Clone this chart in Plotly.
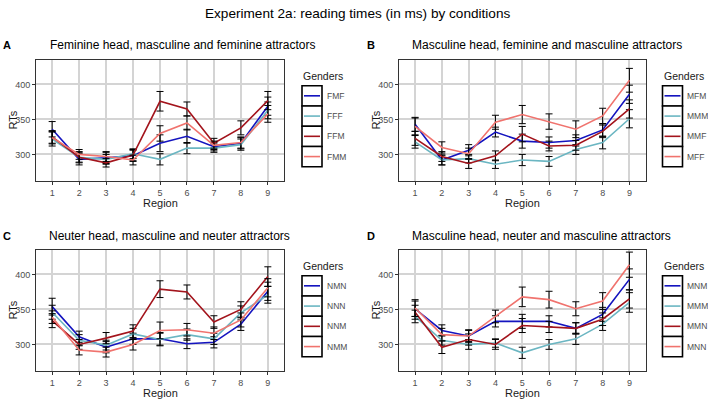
import plotly.graph_objects as go

W, H = 708, 402

regions = [1, 2, 3, 4, 5, 6, 7, 8, 9]
tick_labels = ["1", "2", "3", "4", "5", "6", "7", "8", "9"]
y_ticks = [300, 350, 400]

main_title = "Experiment 2a: reading times (in ms) by conditions"
panel_letters = ["A", "B", "C", "D"]
panel_titles = [
    "Feminine head, masculine and feminine attractors",
    "Masculine head, feminine and masculine attractors",
    "Neuter head, masculine and neuter attractors",
    "Masculine head, neuter and masculine attractors",
]
legend_title = "Genders"
x_title = "Region"
y_title = "RTs"

colors = ["#1414bf", "#6bb6c2", "#a3141c", "#f0736e"]

# Panel A
A_names = ["FMF", "FFF", "FFM", "FMM"]
A_FMF = [336, 293, 295, 298, 316, 326, 311, 316, 369]
A_FFF = [322, 296, 293, 301, 293, 309, 309, 314, 363]
A_FFM = [325, 296, 288, 299, 376, 365, 316, 338, 377]
A_FMM = [324, 300, 297, 292, 330, 345, 313, 317, 358]
A_FMF_err = [11, 8, 8, 8, 12, 10, 6, 8, 13]
A_FFF_err = [10, 7, 7, 7, 8, 8, 6, 8, 12]
A_FFM_err = [9, 8, 6, 8, 14, 10, 7, 10, 13]
A_FMM_err = [9, 7, 7, 7, 11, 10, 6, 8, 12]

# Panel B
B_names = ["MFM", "MMM", "MMF", "MFF"]
B_MFM = [343, 292, 306, 332, 319, 317, 320, 335, 386]
B_MMM = [318, 292, 294, 286, 292, 290, 307, 317, 351]
B_MMF = [323, 297, 287, 298, 329, 312, 313, 333, 365]
B_MFF = [340, 310, 301, 346, 357, 347, 336, 355, 406]
B_MFM_err = [10, 7, 8, 7, 10, 8, 8, 9, 13]
B_MMM_err = [9, 7, 6, 6, 8, 7, 7, 9, 13]
B_MMF_err = [10, 7, 7, 7, 11, 7, 7, 9, 13]
B_MFF_err = [12, 8, 8, 10, 13, 11, 12, 11, 17]

# Panel C
C_names = ["NMN", "NNN", "NNM", "NMM"]
C_NMN = [354, 311, 296, 308, 308, 301, 303, 329, 376]
C_NNN = [346, 306, 299, 315, 307, 314, 308, 345, 371]
C_NNM = [334, 300, 309, 319, 379, 375, 332, 350, 397]
C_NMM = [339, 292, 289, 300, 320, 321, 316, 335, 381]
C_NMN_err = [12, 8, 8, 8, 9, 7, 8, 9, 13]
C_NNN_err = [10, 8, 7, 8, 9, 8, 8, 10, 12]
C_NNM_err = [10, 7, 8, 9, 12, 10, 9, 11, 14]
C_NMM_err = [9, 7, 7, 8, 12, 9, 9, 10, 13]

# Panel D
D_names = ["MNM", "MMM", "MMN", "MNN"]
D_MNM = [351, 320, 312, 333, 333, 333, 323, 343, 393]
D_MMM = [340, 306, 300, 302, 288, 300, 308, 329, 360]
D_MMN = [346, 296, 307, 300, 327, 325, 323, 336, 365]
D_MNN = [352, 314, 312, 340, 368, 364, 351, 362, 414]
D_MNM_err = [11, 8, 8, 8, 10, 8, 8, 10, 15]
D_MMM_err = [9, 7, 7, 6, 8, 7, 8, 9, 14]
D_MMN_err = [10, 9, 8, 7, 10, 8, 8, 9, 13]
D_MNN_err = [12, 9, 9, 9, 14, 12, 10, 12, 18]

panels = [
    (A_names, [A_FMF, A_FFF, A_FFM, A_FMM], [A_FMF_err, A_FFF_err, A_FFM_err, A_FMM_err]),
    (B_names, [B_MFM, B_MMM, B_MMF, B_MFF], [B_MFM_err, B_MMM_err, B_MMF_err, B_MFF_err]),
    (C_names, [C_NMN, C_NNN, C_NNM, C_NMM], [C_NMN_err, C_NNN_err, C_NNM_err, C_NMM_err]),
    (D_names, [D_MNM, D_MMM, D_MMN, D_MNN], [D_MNM_err, D_MMM_err, D_MMN_err, D_MNN_err]),
]

# layout geometry in pixels: (left, right, top, bottom) of each plot panel
boxes = [(36, 284, 60, 181), (399, 645.5, 60, 181), (36, 284, 250, 371), (399, 645.5, 250, 371)]
legend_pos = [(302, 85.7), (662.5, 85.7), (302, 275.7), (662.5, 275.7)]
letter_pos = [(7, 45), (371, 45), (7, 236), (371, 236)]
title_pos = [(182, 45), (547, 45), (169, 236), (541, 236)]

FONT = "Liberation Sans, Arial, sans-serif"


def px(x):
    return x / W


def py(y):
    return 1 - y / H


fig = go.Figure()
annotations = []
shapes = []

for i, (names, series, errs) in enumerate(panels):
    ax = "" if i == 0 else str(i + 1)
    for k in range(4):
        fig.add_trace(go.Scatter(
            x=regions, y=series[k], name=names[k], mode="lines",
            line=dict(color=colors[k], width=1.6),
            error_y=dict(type="data", array=errs[k], visible=True,
                         color="black", thickness=1, width=3.5),
            xaxis="x" + ax, yaxis="y" + ax, showlegend=False,
        ))
    l, r, t, b = boxes[i]
    fig.layout["xaxis" + ax] = dict(
        domain=[px(l), px(r)], range=[0.4, 9.6], anchor="y" + ax,
        tickvals=regions, ticktext=tick_labels,
        showgrid=True, gridcolor="#d4d4d4", gridwidth=1.6,
        showline=True, linecolor="#333333", linewidth=1, mirror=True,
        ticks="outside", ticklen=3, tickcolor="#333333",
        tickfont=dict(size=9, color="#4d4d4d", family=FONT),
        zeroline=False, fixedrange=True,
    )
    fig.layout["yaxis" + ax] = dict(
        domain=[py(b), py(t)], range=[262, 435], anchor="x" + ax,
        tickvals=y_ticks,
        showgrid=True, gridcolor="#d4d4d4", gridwidth=1.6,
        showline=True, linecolor="#333333", linewidth=1, mirror=True,
        ticks="outside", ticklen=3, tickcolor="#333333",
        tickfont=dict(size=9, color="#4d4d4d", family=FONT),
        zeroline=False, fixedrange=True,
    )
    # axis titles
    annotations.append(dict(x=px((l + r) / 2), y=py(b + 22), xref="paper", yref="paper",
                            text=x_title, showarrow=False, xanchor="center", yanchor="middle",
                            font=dict(size=11, color="#1a1a1a", family=FONT)))
    annotations.append(dict(x=px(l - 24), y=py((t + b) / 2), xref="paper", yref="paper",
                            text=y_title, showarrow=False, textangle=-90,
                            xanchor="center", yanchor="middle",
                            font=dict(size=11, color="#1a1a1a", family=FONT)))
    # panel letter and title
    lx, ly = letter_pos[i]
    annotations.append(dict(x=px(lx), y=py(ly), xref="paper", yref="paper",
                            text="<b>" + panel_letters[i] + "</b>", showarrow=False,
                            xanchor="center", yanchor="middle",
                            font=dict(size=11, color="black", family=FONT)))
    tx, ty = title_pos[i]
    annotations.append(dict(x=px(tx), y=py(ty), xref="paper", yref="paper",
                            text=panel_titles[i], showarrow=False,
                            xanchor="center", yanchor="middle",
                            font=dict(size=12, color="black", family=FONT)))
    # custom legend
    gx, gy = legend_pos[i]
    kh = 20.25
    kw = 20
    annotations.append(dict(x=px(gx - 1), y=py(gy - 10), xref="paper", yref="paper",
                            text=legend_title, showarrow=False,
                            xanchor="left", yanchor="middle",
                            font=dict(size=10.5, color="#1a1a1a", family=FONT)))
    for k in range(4):
        y0 = gy + k * kh
        shapes.append(dict(type="rect", xref="paper", yref="paper",
                           x0=px(gx), x1=px(gx + kw), y0=py(y0), y1=py(y0 + kh),
                           line=dict(color="black", width=1.6), fillcolor="white"))
        shapes.append(dict(type="line", xref="paper", yref="paper",
                           x0=px(gx + 2), x1=px(gx + kw - 2),
                           y0=py(y0 + kh / 2), y1=py(y0 + kh / 2),
                           line=dict(color=colors[k], width=1.6)))
        annotations.append(dict(x=px(gx + kw + 2.5), y=py(y0 + kh / 2), xref="paper", yref="paper",
                                text=names[k], showarrow=False,
                                xanchor="left", yanchor="middle",
                                font=dict(size=8.5, color="#4d4d4d", family=FONT)))

annotations.append(dict(x=px(357), y=py(14), xref="paper", yref="paper",
                        text=main_title, showarrow=False, xanchor="center", yanchor="middle",
                        font=dict(size=13.6, color="black", family=FONT)))

fig.update_layout(
    width=W, height=H,
    margin=dict(l=0, r=0, t=0, b=0),
    paper_bgcolor="white", plot_bgcolor="white",
    annotations=annotations, shapes=shapes,
    showlegend=False,
    font=dict(family=FONT),
)

fig.write_html("out.html", config={"displayModeBar": False},
               post_script="document.body.style.margin='0';")
